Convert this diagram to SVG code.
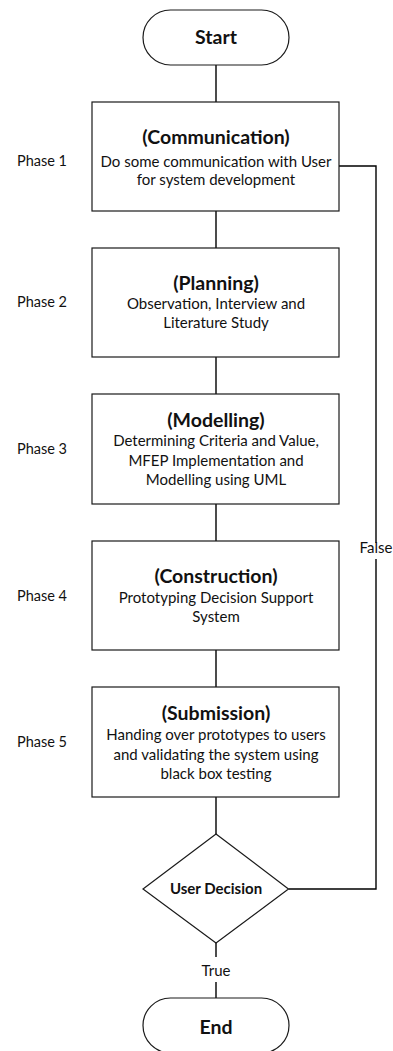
<svg xmlns="http://www.w3.org/2000/svg" width="393" height="1051" viewBox="0 0 393 1051">
<style>
.shape{fill:#fff;stroke:#1a1a1a;stroke-width:1.2}
.conn{fill:none;stroke:#000;stroke-width:1.4}
text{font-family:Lato,"Liberation Sans",sans-serif;fill:#111;text-anchor:middle}
.t{font-size:19.5px;font-weight:bold}
.b{font-size:15px}
.ph{font-size:14.5px;text-anchor:start}
.dec{font-size:15px;font-weight:bold}
</style>
<rect width="393" height="1051" fill="#fff"/>
<g id="connectors">
<path class="conn" d="M216 65V102M216 211V248M216 357V394M216 504V541M216 650V687M216 797V834"/>
<path class="conn" d="M216 943V957M216 982V998"/>
<path class="conn" d="M288.5 889H376V559M376 543V166H339"/>
<text class="b" x="376" y="553">False</text>
<text class="b" x="216" y="976">True</text>
</g>
<g id="start">
<rect class="shape" x="143" y="10" width="146" height="55" rx="27.5"/>
<text class="t" x="216" y="44">Start</text>
</g>
<g id="phase1">
<text class="ph" x="17" y="166">Phase 1</text>
<rect class="shape" x="92" y="102" width="247" height="109"/>
<text class="t" x="216" y="144">(Communication)</text>
<text class="b" x="216" y="167">Do some communication with User</text>
<text class="b" x="216" y="185">for system development</text>
</g>
<g id="phase2">
<text class="ph" x="17" y="307">Phase 2</text>
<rect class="shape" x="92" y="248" width="247" height="109"/>
<text class="t" x="216" y="290">(Planning)</text>
<text class="b" x="216" y="309">Observation, Interview and</text>
<text class="b" x="216" y="328">Literature Study</text>
</g>
<g id="phase3">
<text class="ph" x="17" y="454">Phase 3</text>
<rect class="shape" x="92" y="394" width="247" height="110"/>
<text class="t" x="216" y="427">(Modelling)</text>
<text class="b" x="216" y="446">Determining Criteria and Value,</text>
<text class="b" x="216" y="466">MFEP Implementation and</text>
<text class="b" x="216" y="485">Modelling using UML</text>
</g>
<g id="phase4">
<text class="ph" x="17" y="601">Phase 4</text>
<rect class="shape" x="92" y="541" width="247" height="109"/>
<text class="t" x="216" y="583">(Construction)</text>
<text class="b" x="216" y="603">Prototyping Decision Support</text>
<text class="b" x="216" y="622">System</text>
</g>
<g id="phase5">
<text class="ph" x="17" y="747">Phase 5</text>
<rect class="shape" x="92" y="687" width="247" height="110"/>
<text class="t" x="216" y="720">(Submission)</text>
<text class="b" x="216" y="740">Handing over prototypes to users</text>
<text class="b" x="216" y="760">and validating the system using</text>
<text class="b" x="216" y="779">black box testing</text>
</g>
<g id="decision">
<polygon class="shape" points="216,834 288.5,889 216,943 143,889"/>
<text class="dec" x="216" y="894">User Decision</text>
</g>
<g id="end">
<rect class="shape" x="143" y="998" width="146" height="55" rx="27.5"/>
<text class="t" x="216" y="1034">End</text>
</g>
</svg>
